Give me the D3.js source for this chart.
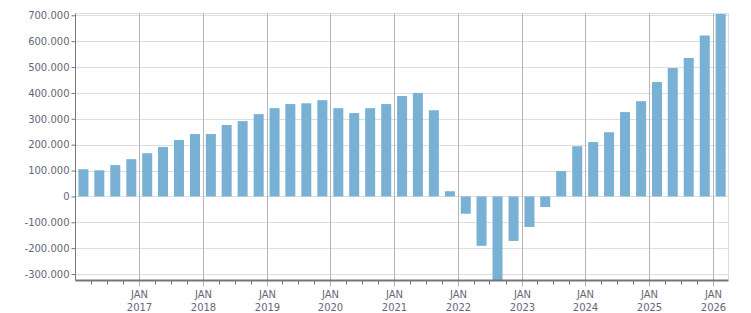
<!DOCTYPE html>
<html>
<head>
<meta charset="utf-8">
<script src="https://cdn.jsdelivr.net/npm/d3@7"></script>
<style>
  body { margin: 0; background: #fff; }
  text { font-family: "DejaVu Sans", Verdana, sans-serif; font-size: 10px; fill: #666678; }
</style>
</head>
<body>
<script>
/* quarters (start month) and values */
var quarters = [
  "2016-01", "2016-04", "2016-07", "2016-10",
  "2017-01", "2017-04", "2017-07", "2017-10",
  "2018-01", "2018-04", "2018-07", "2018-10",
  "2019-01", "2019-04", "2019-07", "2019-10",
  "2020-01", "2020-04", "2020-07", "2020-10",
  "2021-01", "2021-04", "2021-07", "2021-10",
  "2022-01", "2022-04", "2022-07", "2022-10",
  "2023-01", "2023-04", "2023-07", "2023-10",
  "2024-01", "2024-04", "2024-07", "2024-10",
  "2025-01", "2025-04", "2025-07", "2025-10",
  "2026-01"
];
var values = [
  105000, 101000, 121000, 144000,
  167000, 191000, 218000, 241000,
  241000, 276000, 291000, 318000,
  341000, 357000, 360000, 372000,
  341000, 322000, 341000, 357000,
  388000, 400000, 333000, 20000,
  -67000, -191000, -340000, -172000,
  -118000, -41000, 98000, 194000,
  210000, 248000, 326000, 368000,
  442000, 496000, 535000, 622000,
  705000
];
var yTicks = [-300000, -200000, -100000, 0, 100000, 200000, 300000, 400000, 500000, 600000, 700000];
var xYears = [2017, 2018, 2019, 2020, 2021, 2022, 2023, 2024, 2025, 2026];
var xLabelTop = "JAN";

var width = 751, height = 313;
var plotL = 75.5, plotR = 728.5, plotT = 13.5, plotB = 280.5;

var parse = d3.timeParse("%Y-%m");
var data = quarters.map(function(q, i) {
  var s = parse(q);
  return { start: s, end: d3.timeMonth.offset(s, 3), value: values[i] };
});

var svg = d3.select("body").append("svg")
    .attr("width", width)
    .attr("height", height);

var x = d3.scaleTime()
    .domain([new Date(2016, 0, 1), new Date(2026, 3, 1)])
    .range([plotL, plotR]);

var y = d3.scaleLinear()
    .domain([-325000, 707000])
    .range([plotB, plotT]);

var locale = d3.formatLocale({ decimal: ",", thousands: ".", grouping: [3], currency: ["", ""], minus: "-" });
var fmt = locale.format(",.0f");

svg.append("clipPath").attr("id", "plot")
  .append("rect")
    .attr("x", plotL).attr("y", plotT)
    .attr("width", plotR - plotL).attr("height", plotB - plotT);

/* horizontal grid */
svg.append("g").selectAll("line")
    .data(yTicks)
    .enter().append("line")
    .attr("x1", plotL).attr("x2", plotR)
    .attr("y1", function(d) { return Math.round(y(d)) + 0.5; })
    .attr("y2", function(d) { return Math.round(y(d)) + 0.5; })
    .attr("stroke", "#dddddd");

/* top and right border */
svg.append("path")
    .attr("d", "M" + plotL + "," + plotT + "H" + plotR + "V" + plotB)
    .attr("fill", "none")
    .attr("stroke", "#dddddd");

/* vertical grid at January */
var janDates = xYears.map(function(yr) { return new Date(yr, 0, 1); });
svg.append("g").selectAll("line")
    .data(janDates)
    .enter().append("line")
    .attr("x1", function(d) { return Math.round(x(d)) + 0.5; })
    .attr("x2", function(d) { return Math.round(x(d)) + 0.5; })
    .attr("y1", plotT).attr("y2", plotB + 6)
    .attr("stroke", "#b4b4b4");

/* bars */
svg.append("g")
    .attr("clip-path", "url(#plot)")
  .selectAll("rect")
    .data(data)
    .enter().append("rect")
    .attr("x", function(d) { return (x(d.start) + x(d.end)) / 2 - 5; })
    .attr("width", 10)
    .attr("y", function(d) { return y(Math.max(0, d.value)); })
    .attr("height", function(d) { return Math.abs(y(d.value) - y(0)); })
    .attr("fill", "#78b1d3");

/* y axis */
var yAxis = d3.axisLeft(y)
    .tickValues(yTicks)
    .tickSize(4)
    .tickPadding(2)
    .tickFormat(fmt);
var gy = svg.append("g")
    .attr("transform", "translate(" + plotL + ",0)")
    .call(yAxis);
gy.select(".domain").remove();
gy.selectAll(".tick line").attr("stroke", "#777");
gy.selectAll(".tick text").attr("fill", null).attr("font-size", null).attr("font-family", null);
gy.attr("font-size", null).attr("font-family", null);
svg.append("line")
    .attr("x1", plotL).attr("x2", plotL)
    .attr("y1", plotT).attr("y2", plotB)
    .attr("stroke", "#777");

/* x axis: quarterly minor ticks */
var minor = data.map(function(d) { return d.start; })
    .filter(function(d) { return d.getMonth() !== 0; });
svg.append("g").selectAll("line")
    .data(minor)
    .enter().append("line")
    .attr("x1", function(d) { return Math.round(x(d)) + 0.5; })
    .attr("x2", function(d) { return Math.round(x(d)) + 0.5; })
    .attr("y1", plotB).attr("y2", plotB + 4)
    .attr("stroke", "#777");

svg.append("line")
    .attr("x1", plotL).attr("x2", plotR)
    .attr("y1", plotB).attr("y2", plotB)
    .attr("stroke", "#777")
    .attr("stroke-width", 2);

/* x labels */
var xl = svg.append("g").selectAll("text")
    .data(janDates)
    .enter().append("text")
    .attr("text-anchor", "middle")
    .attr("x", function(d) { return Math.round(x(d)) + 0.5; })
    .attr("y", 298);
xl.append("tspan").text(xLabelTop);
xl.append("tspan")
    .attr("x", function(d) { return Math.round(x(d)) + 0.5; })
    .attr("y", 311)
    .text(function(d) { return d.getFullYear(); });
</script>
</body>
</html>
